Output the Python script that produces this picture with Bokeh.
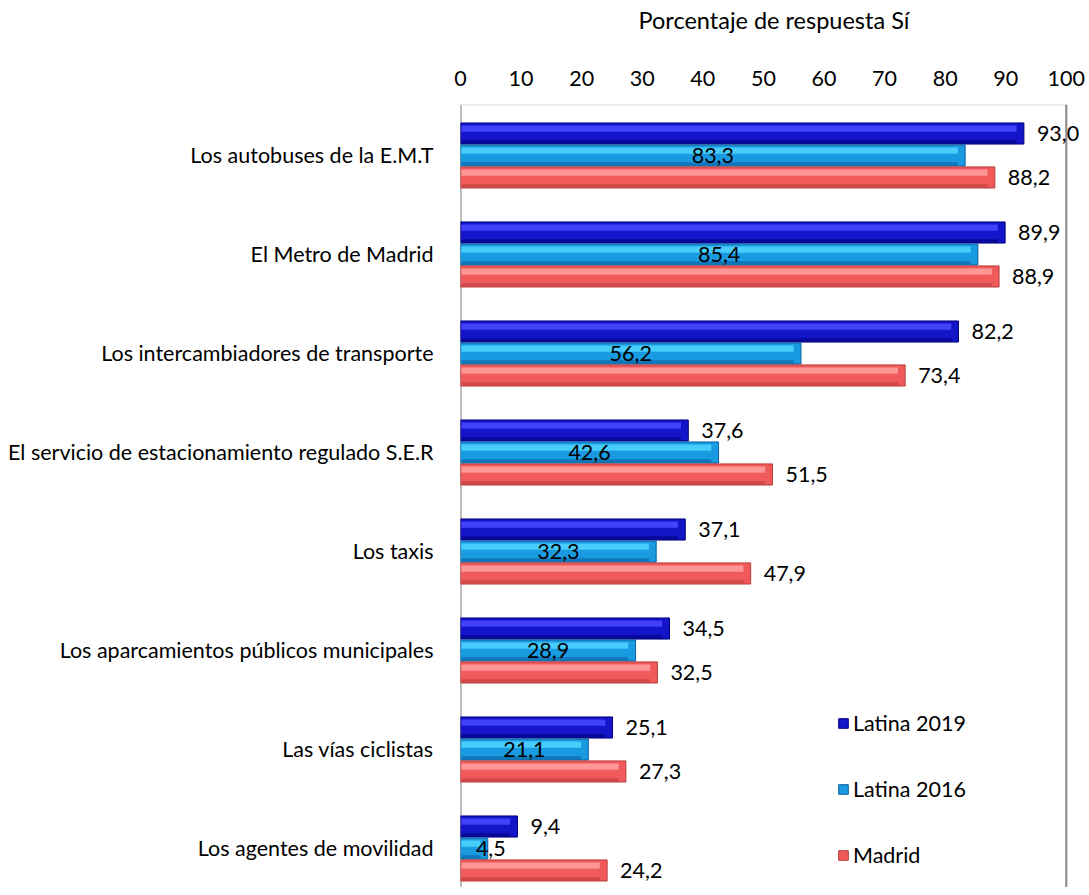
from bokeh.plotting import figure
from bokeh.models import (ColumnDataSource, Range1d, FixedTicker, LabelSet,
                          Legend, LegendItem, BoxAnnotation, Span)
from bokeh.core.properties import value
from bokeh.embed import file_html
from bokeh.resources import INLINE

categories = ["Los autobuses de la E.M.T", "El Metro de Madrid",
              "Los intercambiadores de transporte",
              "El servicio de estacionamiento regulado S.E.R", "Los taxis",
              "Los aparcamientos públicos municipales", "Las vías ciclistas",
              "Los agentes de movilidad"]
latina_2019 = [93.0, 89.9, 82.2, 37.6, 37.1, 34.5, 25.1, 9.4]
latina_2016 = [83.3, 85.4, 56.2, 42.6, 32.3, 28.9, 21.1, 4.5]
madrid = [88.2, 88.9, 73.4, 51.5, 47.9, 32.5, 27.3, 24.2]
series_names = ["Latina 2019", "Latina 2016", "Madrid"]
x_ticks = [0, 10, 20, 30, 40, 50, 60, 70, 80, 90, 100]
x_max = 100

FONT = "Lato"
FS = "21.5px"

Y_TOP = -0.515
Y_BOTTOM = 7.394

p = figure(width=1087, height=887, output_backend="svg", toolbar_location=None,
           x_range=Range1d(0, 103.5), y_range=Range1d(Y_BOTTOM, Y_TOP),
           x_axis_location="above", min_border_left=460, min_border_right=0,
           min_border_top=104, min_border_bottom=0)
p.background_fill_color = "white"
p.border_fill_color = "white"
p.outline_line_color = None
p.xgrid.visible = False
p.ygrid.visible = False

# plot-area frame (0..100)
p.add_layout(BoxAnnotation(left=0, right=x_max, top=Y_TOP, bottom=Y_BOTTOM + 1,
                           fill_alpha=0, line_color="#8c8c8c", line_width=2,
                           level="underlay"))
p.add_layout(Span(location=0, dimension="height", line_color="#8c8c8c",
                  line_width=2, level="underlay"))
p.add_layout(Span(location=x_max, dimension="height", line_color="#8c8c8c",
                  line_width=2, level="underlay"))

# axes
p.xaxis.ticker = FixedTicker(ticks=x_ticks)
p.xaxis.axis_label = "Porcentaje de respuesta Sí"
p.xaxis.axis_label_text_font = FONT
p.xaxis.axis_label_text_font_size = "23.5px"
p.xaxis.axis_label_text_font_style = "normal"
p.xaxis.axis_label_text_color = "black"
p.xaxis.axis_label_standoff = 34
p.xaxis.major_label_text_font = FONT
p.xaxis.major_label_text_font_size = FS
p.xaxis.major_label_text_color = "black"
p.xaxis.major_label_standoff = 13
p.xaxis.axis_line_color = None
p.xaxis.major_tick_line_color = None
p.xaxis.minor_tick_line_color = None

idx = list(range(len(categories)))
p.yaxis.ticker = FixedTicker(ticks=idx)
p.yaxis.major_label_overrides = {i: c for i, c in zip(idx, categories)}
p.yaxis.major_label_text_font = FONT
p.yaxis.major_label_text_font_size = FS
p.yaxis.major_label_text_color = "black"
p.yaxis.major_label_standoff = 21
p.yaxis.axis_line_color = None
p.yaxis.major_tick_line_color = None
p.yaxis.minor_tick_line_color = None

BAR_H = 0.222
offsets = [-BAR_H, 0.0, BAR_H]
styles = [
    dict(main="#1414c8", light="#4646ff", dark="#00007a"),
    dict(main="#1a9ae0", light="#4cd2ff", dark="#0a5f9e"),
    dict(main="#f05a5a", light="#ff9c9c", dark="#b83c3c"),
]
all_vals = [latina_2019, latina_2016, madrid]

items = []
for vals, off, st, name in zip(all_vals, offsets, styles, series_names):
    ys = [i + off for i in idx]
    src = ColumnDataSource(dict(
        y=ys, v=vals,
        y_hi=[y - BAR_H * 0.22 for y in ys],
        y_lo=[y + BAR_H * 0.38 for y in ys],
        v_in=[max(v - 1.2, 0.2) for v in vals],
        lab=[f"{v:.1f}".replace(".", ",") for v in vals],
        lab_x=[max(v / 2, 5.0) for v in vals],
    ))
    r = p.hbar(y="y", left=0, right="v", height=BAR_H * 0.96, source=src,
               fill_color=st["main"], line_color=st["dark"], line_width=1)
    p.hbar(y="y_hi", left=0.15, right="v_in", height=BAR_H * 0.28, source=src,
           fill_color=st["light"], line_color=None, fill_alpha=0.9)
    p.hbar(y="y_lo", left=0.15, right="v_in", height=BAR_H * 0.14, source=src,
           fill_color=st["dark"], line_color=None, fill_alpha=0.6)
    items.append(LegendItem(label=name, renderers=[r]))
    if name == "Latina 2016":
        ls = LabelSet(x="lab_x", y="y", text="lab", source=src,
                      text_align="center", text_baseline="middle",
                      text_font=value(FONT), text_font_size=value(FS),
                      text_color="black")
    else:
        ls = LabelSet(x="v", y="y", text="lab", source=src, x_offset=13,
                      text_align="left", text_baseline="middle",
                      text_font=value(FONT), text_font_size=value(FS),
                      text_color="black")
    p.add_layout(ls)

legend = Legend(items=items, location=(377, 19), orientation="vertical",
                glyph_width=12, glyph_height=12, label_standoff=4,
                label_height=22, spacing=40, padding=0, margin=0,
                border_line_color=None, background_fill_alpha=0,
                label_text_font=FONT, label_text_font_size=FS,
                label_text_color="black")
p.add_layout(legend)

open("out.html", "w").write(file_html(p, INLINE))
